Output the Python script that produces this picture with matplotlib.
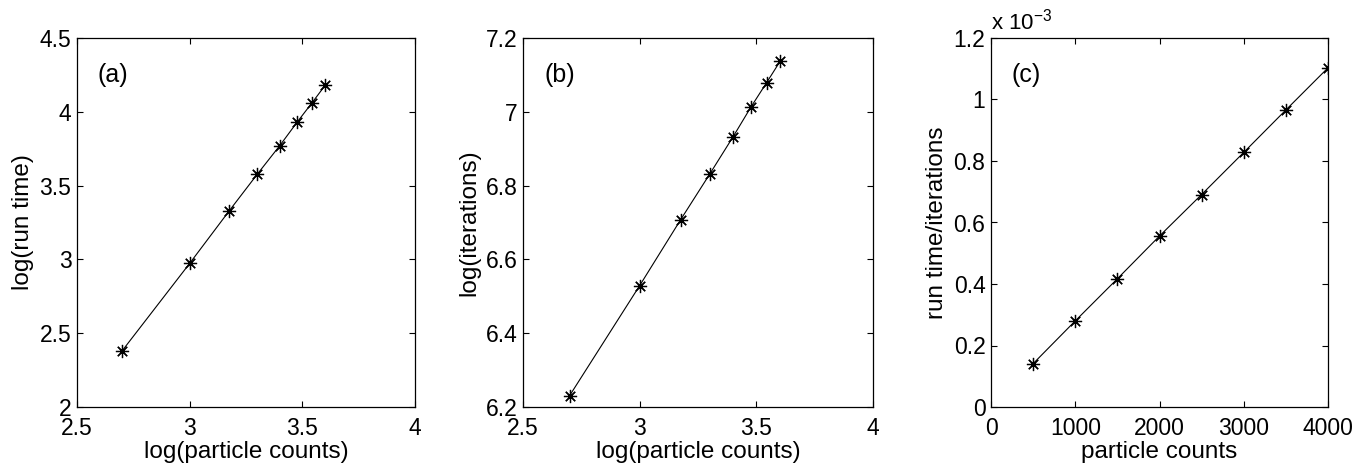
import matplotlib
matplotlib.use("Agg")
import matplotlib.pyplot as plt

plt.rcParams['font.family'] = ['Liberation Sans', 'DejaVu Sans']

# Data
log_counts = [2.70, 3.00, 3.175, 3.30, 3.40, 3.477, 3.544, 3.602]
log_runtime = [2.38, 2.973, 3.328, 3.577, 3.771, 3.930, 4.063, 4.181]
log_iterations = [6.231, 6.529, 6.707, 6.831, 6.932, 7.013, 7.079, 7.137]
counts = [500, 1000, 1500, 2000, 2500, 3000, 3500, 4000]
time_per_iter = [0.141, 0.280, 0.417, 0.556, 0.691, 0.828, 0.966, 1.103]  # x 1e-3

panel_tags = ['(a)', '(b)', '(c)']

fig = plt.figure(figsize=(13.64, 4.65), dpi=100)
H = 465.0
W = 1364.0
def add_ax(l, r, t=38, b=407):
    return fig.add_axes([l / W, 1 - b / H, (r - l) / W, (b - t) / H])

ax_a = add_ax(77, 415)
ax_b = add_ax(523, 873)
ax_c = add_ax(991, 1328)

mk = dict(color='black', lw=0.8, marker=(8, 2, 0), markersize=9.5, markeredgewidth=0.9)

ax_a.plot(log_counts, log_runtime, **mk)
ax_a.set_xlim(2.5, 4)
ax_a.set_ylim(2, 4.5)
ax_a.set_xticks([2.5, 3, 3.5, 4])
ax_a.set_xticklabels(['2.5', '3', '3.5', '4'])
ax_a.set_yticks([2, 2.5, 3, 3.5, 4, 4.5])
ax_a.set_yticklabels(['2', '2.5', '3', '3.5', '4', '4.5'])
ax_a.set_xlabel('log(particle counts)')
ax_a.set_ylabel('log(run time)')

ax_b.plot(log_counts, log_iterations, **mk)
ax_b.set_xlim(2.5, 4)
ax_b.set_ylim(6.2, 7.2)
ax_b.set_xticks([2.5, 3, 3.5, 4])
ax_b.set_xticklabels(['2.5', '3', '3.5', '4'])
ax_b.set_yticks([6.2, 6.4, 6.6, 6.8, 7.0, 7.2])
ax_b.set_yticklabels(['6.2', '6.4', '6.6', '6.8', '7', '7.2'])
ax_b.set_xlabel('log(particle counts)')
ax_b.set_ylabel('log(iterations)')

ax_c.plot(counts, time_per_iter, **mk)
ax_c.set_xlim(0, 4000)
ax_c.set_ylim(0, 1.2)
ax_c.set_xticks([0, 1000, 2000, 3000, 4000])
ax_c.set_yticks([0, 0.2, 0.4, 0.6, 0.8, 1.0, 1.2])
ax_c.set_yticklabels(['0', '0.2', '0.4', '0.6', '0.8', '1', '1.2'])
ax_c.set_xlabel('particle counts')
ax_c.set_ylabel('run time/iterations')
ax_c.text(0.0, 1.01, r'x 10$^{\mathregular{-3}}$', transform=ax_c.transAxes,
          fontsize=16, ha='left', va='bottom')

for ax, tag in zip([ax_a, ax_b, ax_c], panel_tags):
    ax.tick_params(direction='in', top=True, right=True, length=4, width=0.8,
                   labelsize=16.5)
    ax.tick_params(axis='x', pad=7)
    ax.tick_params(axis='y', pad=4)
    ax.xaxis.label.set_size(17.5)
    ax.yaxis.label.set_size(17.5)
    ax.xaxis.labelpad = 1
    ax.yaxis.labelpad = 4
    for s in ax.spines.values():
        s.set_linewidth(0.9)
    ax.text(0.06, 0.9, tag, transform=ax.transAxes, fontsize=18, ha='left', va='center')

fig.savefig('out.png', dpi=100)
